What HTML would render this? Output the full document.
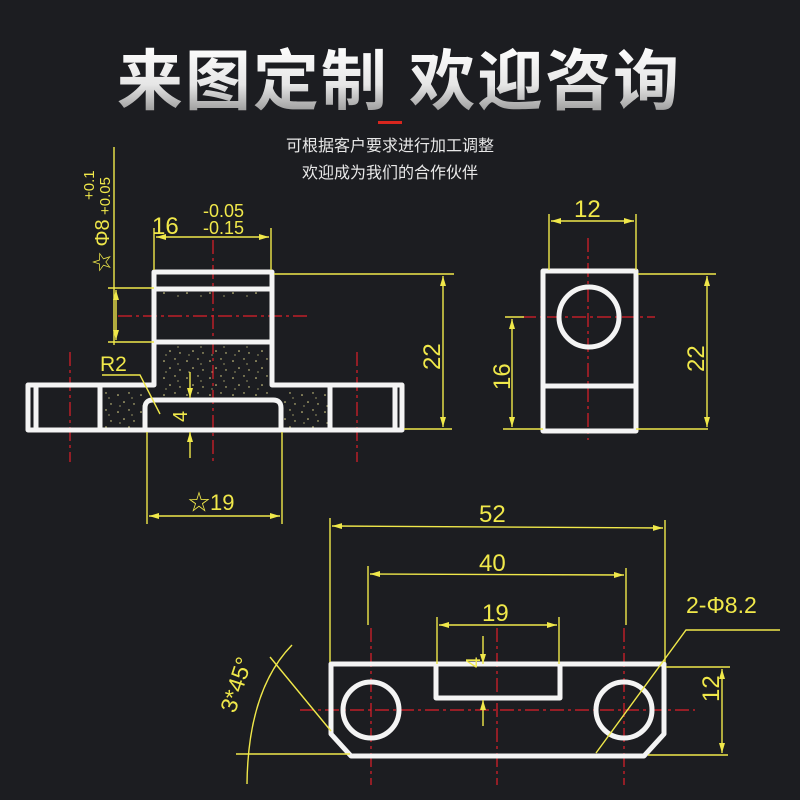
<!DOCTYPE html>
<html><head><meta charset="utf-8"><style>
html,body{margin:0;padding:0;background:#1c1d21;}
svg{display:block}
.t{font-family:"Liberation Sans","Noto Sans CJK SC",sans-serif}
</style></head><body>
<svg width="800" height="800" viewBox="0 0 800 800" xmlns="http://www.w3.org/2000/svg">
<defs>
<linearGradient id="g" x1="0" y1="0" x2="0" y2="1">
<stop offset="0" stop-color="#ffffff"/><stop offset="0.55" stop-color="#e6e6e6"/><stop offset="1" stop-color="#8a8a8a"/></linearGradient>
<pattern id="dots" width="23" height="17" patternUnits="userSpaceOnUse">
<circle cx="3" cy="4" r="0.8" fill="#e8e090"/><circle cx="14" cy="2" r="0.7" fill="#e8e090"/><circle cx="9" cy="11" r="0.8" fill="#e8e090"/><circle cx="19" cy="13" r="0.7" fill="#e8e090"/><circle cx="5" cy="15" r="0.6" fill="#e8e090"/><circle cx="17" cy="7" r="0.6" fill="#e8e090"/>
</pattern>
<marker id="a" viewBox="0 0 10 6" refX="10" refY="3" markerWidth="10" markerHeight="6" orient="auto-start-reverse" markerUnits="userSpaceOnUse"><path d="M0,0L10,3L0,6z" fill="#f0e84a"/></marker>
</defs>
<rect width="800" height="800" fill="#1c1d21"/>
<text x="399" y="104" text-anchor="middle" class="t" font-size="66" font-weight="bold" fill="url(#g)" letter-spacing="2">来图定制 欢迎咨询</text>
<rect x="378" y="121" width="24" height="3" fill="#d8261e"/>
<text x="390" y="151" text-anchor="middle" class="t" font-size="16" fill="#e8e8e8">可根据客户要求进行加工调整</text>
<text x="390" y="178" text-anchor="middle" class="t" font-size="16" fill="#e8e8e8">欢迎成为我们的合作伙伴</text>

<rect x="158" y="345" width="110" height="52" fill="url(#dots)"/>
<rect x="104" y="390" width="40" height="38" fill="url(#dots)"/>
<rect x="284" y="390" width="44" height="38" fill="url(#dots)"/>
<rect x="158" y="292" width="110" height="6" fill="url(#dots)"/>

<g stroke="#e0202a" stroke-width="1.2" fill="none" stroke-dasharray="14,4,3,4">
<line x1="213" y1="240" x2="213" y2="465"/>
<line x1="118" y1="316" x2="308" y2="316"/>
<line x1="70" y1="352" x2="70" y2="462"/>
<line x1="357" y1="352" x2="357" y2="462"/>
<line x1="588" y1="238" x2="588" y2="440"/>
<line x1="522" y1="317" x2="655" y2="317"/>
<line x1="300" y1="710" x2="695" y2="710"/>
<line x1="371" y1="628" x2="371" y2="785"/>
<line x1="497" y1="628" x2="497" y2="785"/>
<line x1="624" y1="628" x2="624" y2="785"/>
</g>

<g stroke="#f4f4f4" stroke-width="5" fill="none" stroke-linejoin="round">
<path d="M28,385 H154 V272 H272 V385 H402 V430 H28 Z"/>
<line x1="154" y1="289" x2="272" y2="289"/>
<line x1="154" y1="342" x2="272" y2="342"/>
<path d="M145,430 V408 Q145,400 153,400 H273 Q281,400 281,408 V430"/>
<line x1="36" y1="387" x2="36" y2="428"/>
<line x1="100" y1="387" x2="100" y2="428"/>
<line x1="330" y1="387" x2="330" y2="428"/>
<line x1="395" y1="387" x2="395" y2="428"/>
<rect x="543" y="271" width="93" height="160"/>
<line x1="543" y1="386" x2="636" y2="386"/>
<circle cx="589" cy="317" r="30"/>
<path d="M331,664 H664 V734 L644,756 H351 L331,734 Z"/>
<path d="M436,664 V698 H560 V664"/>
<circle cx="371" cy="710" r="28"/>
<circle cx="624" cy="710" r="28"/>
</g>

<g stroke="#f0e84a" stroke-width="1.4" fill="none">
<line x1="154" y1="228" x2="154" y2="270"/><line x1="271" y1="228" x2="271" y2="270"/>
<line x1="156" y1="237" x2="269" y2="237" marker-start="url(#a)" marker-end="url(#a)"/>
<line x1="114" y1="147" x2="114" y2="345"/>
<line x1="108" y1="288" x2="154" y2="288"/><line x1="108" y1="342" x2="154" y2="342"/>
<line x1="116" y1="290" x2="116" y2="340" marker-start="url(#a)" marker-end="url(#a)"/>
<line x1="274" y1="274" x2="454" y2="274"/><line x1="404" y1="429" x2="452" y2="429"/>
<line x1="443" y1="276" x2="443" y2="427" marker-start="url(#a)" marker-end="url(#a)"/>
<polyline points="102,375 140,375 160,414"/>
<line x1="190" y1="372" x2="190" y2="398" marker-end="url(#a)"/>
<line x1="190" y1="458" x2="190" y2="432" marker-end="url(#a)"/>
<line x1="147" y1="432" x2="147" y2="524"/><line x1="282" y1="432" x2="282" y2="524"/>
<line x1="149" y1="516" x2="280" y2="516" marker-start="url(#a)" marker-end="url(#a)"/>

<line x1="549" y1="214" x2="549" y2="270"/><line x1="636" y1="214" x2="636" y2="270"/>
<line x1="551" y1="221" x2="634" y2="221" marker-start="url(#a)" marker-end="url(#a)"/>
<line x1="638" y1="274" x2="716" y2="274"/><line x1="636" y1="429" x2="708" y2="429"/>
<line x1="707" y1="276" x2="707" y2="427" marker-start="url(#a)" marker-end="url(#a)"/>
<line x1="505" y1="317" x2="524" y2="317"/><line x1="503" y1="429" x2="543" y2="429"/>
<line x1="512" y1="319" x2="512" y2="427" marker-start="url(#a)" marker-end="url(#a)"/>

<line x1="330" y1="518" x2="330" y2="662"/><line x1="665" y1="520" x2="665" y2="662"/>
<line x1="332" y1="526" x2="663" y2="528" marker-start="url(#a)" marker-end="url(#a)"/>
<line x1="368" y1="566" x2="368" y2="625"/><line x1="626" y1="568" x2="626" y2="625"/>
<line x1="370" y1="574" x2="624" y2="575" marker-start="url(#a)" marker-end="url(#a)"/>
<line x1="437" y1="617" x2="437" y2="664"/><line x1="559" y1="617" x2="559" y2="664"/>
<line x1="439" y1="625" x2="557" y2="625" marker-start="url(#a)" marker-end="url(#a)"/>
<line x1="483" y1="636" x2="483" y2="664" marker-end="url(#a)"/>
<line x1="483" y1="726" x2="483" y2="700" marker-end="url(#a)"/>
<line x1="666" y1="667" x2="730" y2="667"/><line x1="648" y1="755" x2="728" y2="755"/>
<line x1="722" y1="669" x2="722" y2="753" marker-start="url(#a)" marker-end="url(#a)"/>
<polyline points="780,630 686,630 596,753"/>
<path d="M292,645 Q248,690 247,784" />
<line x1="270" y1="657" x2="331" y2="731"/>
<line x1="236" y1="754" x2="350" y2="754"/>
</g>

<g class="t" fill="#f0e84a">
<text x="152" y="234" font-size="24">16</text>
<text x="203" y="217" font-size="18">-0.05</text>
<text x="203" y="234" font-size="18">-0.15</text>
<text transform="translate(109,272) rotate(-90)" font-size="20">☆ Φ8</text>
<text transform="translate(94,200) rotate(-90)" font-size="15">+0.1</text>
<text transform="translate(110,215) rotate(-90)" font-size="15">+0.05</text>
<text transform="translate(440,370) rotate(-90)" font-size="24">22</text>
<text x="100" y="371" font-size="21">R2</text>
<text transform="translate(187,422) rotate(-90)" font-size="20">4</text>
<text x="188" y="510" font-size="22">☆19</text>
<text x="574" y="217" font-size="24">12</text>
<text transform="translate(704,372) rotate(-90)" font-size="24">22</text>
<text transform="translate(510,390) rotate(-90)" font-size="24">16</text>
<text x="479" y="522" font-size="24">52</text>
<text x="479" y="571" font-size="24">40</text>
<text x="482" y="621" font-size="24">19</text>
<text transform="translate(480,668) rotate(-90)" font-size="20">4</text>
<text transform="translate(719,702) rotate(-90)" font-size="24">12</text>
<text x="686" y="613" font-size="23">2-Φ8.2</text>
<text transform="translate(235,714) rotate(-72)" font-size="23">3*45°</text>
</g>
</svg>
</body></html>
